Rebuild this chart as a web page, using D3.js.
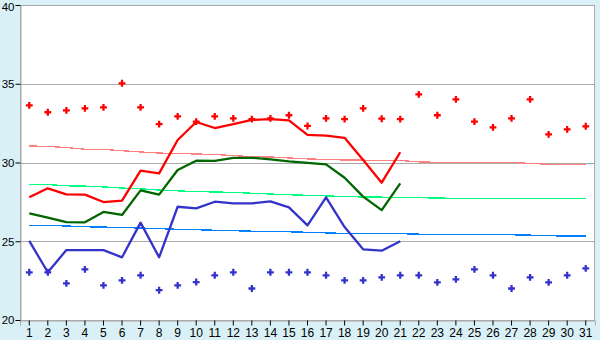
<!DOCTYPE html>
<html><head><meta charset="utf-8">
<script src="https://cdn.jsdelivr.net/npm/d3@7"></script>
<style>
html,body{margin:0;padding:0;background:#d9f0f6;}
svg{display:block;}
text{font-family:"Liberation Sans",Arial,sans-serif;font-size:11px;fill:#000;}
</style></head><body>
<svg id="c" width="600" height="340"></svg>
<script>
const days = d3.range(1, 32);
const yTicks = [20, 25, 30, 35, 40];
const maxPoints = [33.63,33.19,33.31,33.44,33.5,35.03,33.5,32.44,32.93,32.6,32.93,32.8,32.75,32.8,33.0,32.32,32.8,32.75,33.44,32.78,32.75,34.33,33.0,34.01,32.6,32.23,32.8,34.01,31.79,32.1,32.3];
const minPoints = [23.03,23.03,22.33,23.21,22.2,22.52,22.84,21.89,22.2,22.41,22.84,23.03,22.0,23.03,23.03,23.03,22.84,22.52,22.52,22.71,22.84,22.84,22.39,22.58,23.21,22.84,22.0,22.71,22.39,22.84,23.28];
const maxLine = [27.79,28.36,27.98,27.96,27.49,27.58,29.48,29.31,31.43,32.57,32.19,32.44,32.7,32.76,32.67,31.75,31.7,31.57,30.16,28.72,30.65];
const meanLine = [26.77,26.5,26.22,26.2,26.86,26.67,28.23,27.96,29.52,30.11,30.1,30.29,30.3,30.2,30.07,29.97,29.88,29.03,27.83,26.98,28.68];
const minLine = [25.02,23.03,24.44,24.44,24.44,23.98,26.18,23.98,27.19,27.09,27.51,27.4,27.4,27.53,27.15,26.01,27.79,25.9,24.49,24.4,25.0];
const normMax = [31.05,31.02,30.95,30.84,30.83,30.75,30.67,30.6,30.57,30.54,30.51,30.44,30.37,30.35,30.29,30.23,30.19,30.16,30.15,30.14,30.13,30.04,30.01,30.01,30.01,30.01,30.01,29.94,29.89,29.89,29.89];
const normMean = [28.62,28.6,28.52,28.5,28.45,28.38,28.33,28.25,28.2,28.15,28.13,28.1,28.05,28.0,27.95,27.92,27.88,27.84,27.81,27.8,27.79,27.77,27.74,27.73,27.73,27.73,27.73,27.73,27.73,27.73,27.73];
const normMin = [26.01,26.0,25.97,25.92,25.9,25.87,25.84,25.8,25.76,25.73,25.7,25.67,25.64,25.62,25.6,25.57,25.53,25.5,25.5,25.49,25.48,25.45,25.44,25.44,25.43,25.42,25.41,25.39,25.35,25.33,25.33];

const svg = d3.select("#c");
const L = 20, R = 595, T = 5, B = 320;
const x = d3.scaleBand().domain(days).range([L, R]);
const cx = d => x(d) + x.bandwidth() / 2;
const y = d3.scaleLinear().domain([20, 40]).range([B, T]);

svg.append("rect").attr("x", L).attr("y", T).attr("width", R - L).attr("height", B - T).attr("fill", "#fff");

// grid
svg.append("g").selectAll("line").data(yTicks.filter(v => v > 20 && v < 40)).join("line")
  .attr("x1", L).attr("x2", R).attr("y1", d => Math.round(y(d)) + 0.5).attr("y2", d => Math.round(y(d)) + 0.5)
  .attr("stroke", "#aaaaaa").attr("stroke-width", 1);

// border
svg.append("rect").attr("x", L + 0.5).attr("y", T + 0.5).attr("width", R - L - 1).attr("height", B - T)
  .attr("fill", "none").attr("stroke", "#aaaaaa").attr("stroke-width", 1);

// axes
const yAxis = d3.axisLeft(y).tickValues(yTicks).tickSize(5).tickPadding(1);
const gy = svg.append("g").attr("transform", `translate(${L + 0.5},0)`).call(yAxis);
gy.select(".domain").attr("stroke", "#aaaaaa");
gy.selectAll(".tick line").attr("stroke", "#000");
gy.selectAll("text").style("font-size", "11.5px").attr("dy", d => d === 40 ? "0.45em" : "0.34em");

const xAxis = d3.axisBottom(x).tickSize(5).tickPadding(3);
const gx = svg.append("g").attr("transform", `translate(0,${B + 0.5})`).call(xAxis);
gx.select(".domain").attr("stroke", "#aaaaaa");
gx.selectAll(".tick line").attr("stroke", "#000");
gx.selectAll("text").style("font-size", "12px");

// normal lines
const line = d3.line().x((d, i) => cx(days[i])).y(d => y(d));
[[normMax, "#ff8080"], [normMean, "#00ff80"], [normMin, "#0080ff"]].forEach(([arr, col]) => {
  svg.append("path").datum(arr).attr("d", line).attr("fill", "none").attr("stroke", col)
    .attr("stroke-width", 1.3).attr("shape-rendering", "crispEdges");
});

// daily lines
[[maxLine, "#ff0000"], [meanLine, "#006600"], [minLine, "#3333cc"]].forEach(([arr, col]) => {
  svg.append("path").datum(arr).attr("d", line).attr("fill", "none").attr("stroke", col)
    .attr("stroke-width", 2.3).attr("stroke-linejoin", "round");
});

// points
const sym = d3.symbol().type(d3.symbolCross).size(26);
[[maxPoints, "#ff0000"], [minPoints, "#3333cc"]].forEach(([arr, col]) => {
  svg.append("g").selectAll("path").data(arr).join("path")
    .attr("d", sym).attr("fill", col)
    .attr("transform", (d, i) => `translate(${cx(days[i])},${y(d)})`);
});
</script>
</body></html>
